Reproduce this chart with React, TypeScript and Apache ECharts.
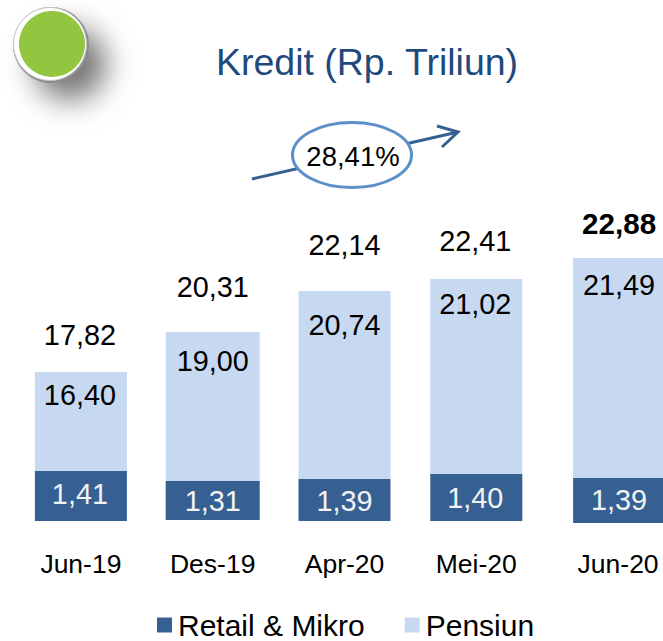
import React, { useEffect, useRef } from "react";
import * as echarts from "echarts";

const categories = ["Jun-19", "Des-19", "Apr-20", "Mei-20", "Jun-20"];
// Values printed on the chart (the original's bars are not drawn to this scale)
const retailLabels = [1.41, 1.31, 1.39, 1.4, 1.39];
const pensiunLabels = [16.4, 19.0, 20.74, 21.02, 21.49];
const totalLabels = [17.82, 20.31, 22.14, 22.41, 22.88];
// Bar heights
const retailHeights = [50, 39, 42, 47, 45];
const pensiunHeights = [99, 149, 188, 195, 220];

// Layout tweaks, in pixels
const barNudgeX = [0, 0, 0, 0, 11];
const barNudgeY = [0, -1, 0, 0, 2];
const BAR_W = [92, 94, 92, 92, 92];
const retailLabelY = [-27, -19, -20, -23, -23];
const pensiunLabelY = [23, 29, 34, 25, 27];
const totalLabelY = [-37, -45, -46, -38, -35];
const labelNudgeX = [-1, 0, 0, -1, 0];

const FONT = '"Liberation Sans", Arial, sans-serif';
const fmt = (v: number) => v.toFixed(2).replace(".", ",");

const rows = categories.map((_, i) => [i, retailHeights[i], pensiunHeights[i]]);

function barSeries(name: string, color: string, which: 0 | 1) {
  return {
    type: "custom",
    name,
    itemStyle: { color },
    encode: { x: 0, y: which === 0 ? 1 : 2 },
    data: rows,
    z: 2,
    clip: false,
    renderItem: (_p: any, api: any) => {
      const i = api.value(0);
      const r = api.value(1);
      const h = api.value(2);
      const from = which === 0 ? 0 : r;
      const to = which === 0 ? r : r + h;
      const [cx, y0Raw] = api.coord([i, from]);
      const [, y1Raw] = api.coord([i, to]);
      const y0 = y0Raw + barNudgeY[i];
      const y1 = y1Raw + barNudgeY[i];
      const w = BAR_W[i];
      return {
        type: "group",
        children: [
          {
            type: "rect",
            shape: {
              x: cx + barNudgeX[i] - w / 2,
              y: y1,
              width: w,
              height: y0 - y1,
            },
            style: { fill: color },
          },
          {
            type: "text",
            x: cx + barNudgeX[i] + labelNudgeX[i],
            y: which === 0 ? y0 + retailLabelY[i] : y1 + pensiunLabelY[i],
            style: {
              text: fmt(which === 0 ? retailLabels[i] : pensiunLabels[i]),
              fill: which === 0 ? "#F2F2F2" : "#000000",
              font: `28.8px ${FONT}`,
              align: "center",
              verticalAlign: "middle",
            },
          },
        ],
      };
    },
  };
}

const totalSeries = {
  type: "custom",
  name: "Total",
  encode: { x: 0, y: 1 },
  data: rows.map((row) => [row[0], row[1] + row[2]]),
  z: 3,
  clip: false,
  renderItem: (_p: any, api: any) => {
    const i = api.value(0);
    const [cx, y] = api.coord([i, api.value(1)]);
    return {
      type: "text",
      x: cx + barNudgeX[i] + labelNudgeX[i],
      y: y + barNudgeY[i] + totalLabelY[i],
      style: {
        text: fmt(totalLabels[i]),
        fill: "#000000",
        font: `${i === 4 ? "bold " : ""}${i === 4 ? 29.6 : 28.8}px ${FONT}`,
        align: "center",
        verticalAlign: "middle",
      },
    };
  },
};

export default function App() {
  const ref = useRef<HTMLDivElement>(null);
  useEffect(() => {
    const chart = echarts.init(ref.current!, undefined, { renderer: "svg" });
    chart.setOption({
      animation: false,
      backgroundColor: "#ffffff",
      title: {
        text: "Kredit (Rp. Triliun)",
        left: 362,
        top: 38,
        textAlign: "center",
        textStyle: { color: "#1F497D", fontFamily: FONT, fontSize: 37.5, fontWeight: "normal" },
      },
      legend: {
        left: 157,
        top: 610,
        padding: 0,
        data: ["Retail & Mikro", "Pensiun"],
        icon: "rect",
        itemWidth: 15,
        itemHeight: 15,
        itemGap: 40,
        selectedMode: false,
        textStyle: { color: "#000000", fontFamily: FONT, fontSize: 30, padding: [0, 0, 0, 1] },
      },
      grid: { left: 15, top: 231, width: 659, height: 300, outerBoundsMode: "none" },
      xAxis: {
        type: "category",
        data: categories.map((c, i) =>
          i === 4 ? { value: c, textStyle: { padding: [0, 0, 0, 20] } } : c
        ),
        axisLine: { show: false },
        axisTick: { show: false },
        splitLine: { show: false },
        axisLabel: {
          interval: 0,
          margin: 19,
          color: "#000000",
          fontFamily: FONT,
          fontSize: 26.5,
          hideOverlap: false,
        },
      },
      yAxis: { type: "value", min: -10, max: 290, show: false, splitLine: { show: false } },
      series: [
        barSeries("Pensiun", "#C6D9F1", 1),
        barSeries("Retail & Mikro", "#366092", 0),
        totalSeries,
      ],
      graphic: [
        {
          type: "circle",
          z: 1,
          shape: { cx: 51, cy: 45, r: 36 },
          style: {
            fill: "#777777",
            shadowBlur: 30,
            shadowOffsetX: 19,
            shadowOffsetY: 19,
            shadowColor: "rgba(0,0,0,0.55)",
          },
        },
        { type: "circle", z: 2, shape: { cx: 51, cy: 45, r: 38 }, style: { fill: "#8C8C8C" } },
        {
          type: "circle",
          z: 3,
          shape: { cx: 50, cy: 44, r: 36.5 },
          style: { fill: "#FFFFFF", stroke: "#C8C8C8", lineWidth: 1 },
        },
        { type: "circle", z: 4, shape: { cx: 52, cy: 44, r: 33 }, style: { fill: "#92C540" } },
        {
          type: "polyline",
          z: 5,
          shape: { points: [[252, 179], [458, 132]] },
          style: { stroke: "#366092", lineWidth: 3, fill: "none" },
        },
        {
          type: "polyline",
          z: 5,
          shape: { points: [[437, 126], [458, 132], [442, 147]] },
          style: { stroke: "#366092", lineWidth: 3, fill: "none" },
        },
        {
          type: "ellipse",
          z: 6,
          shape: { cx: 352, cy: 155, rx: 59.5, ry: 32.5 },
          style: { fill: "#FFFFFF", stroke: "#5B8FC9", lineWidth: 3 },
        },
        {
          type: "text",
          z: 7,
          x: 353,
          y: 156,
          style: {
            text: "28,41%",
            fill: "#000000",
            font: `27.5px ${FONT}`,
            align: "center",
            verticalAlign: "middle",
          },
        },
      ],
    });
    return () => chart.dispose();
  }, []);
  return (
    <div
      ref={ref}
      style={{ position: "fixed", left: 0, top: 0, width: 663, height: 641 }}
    />
  );
}
